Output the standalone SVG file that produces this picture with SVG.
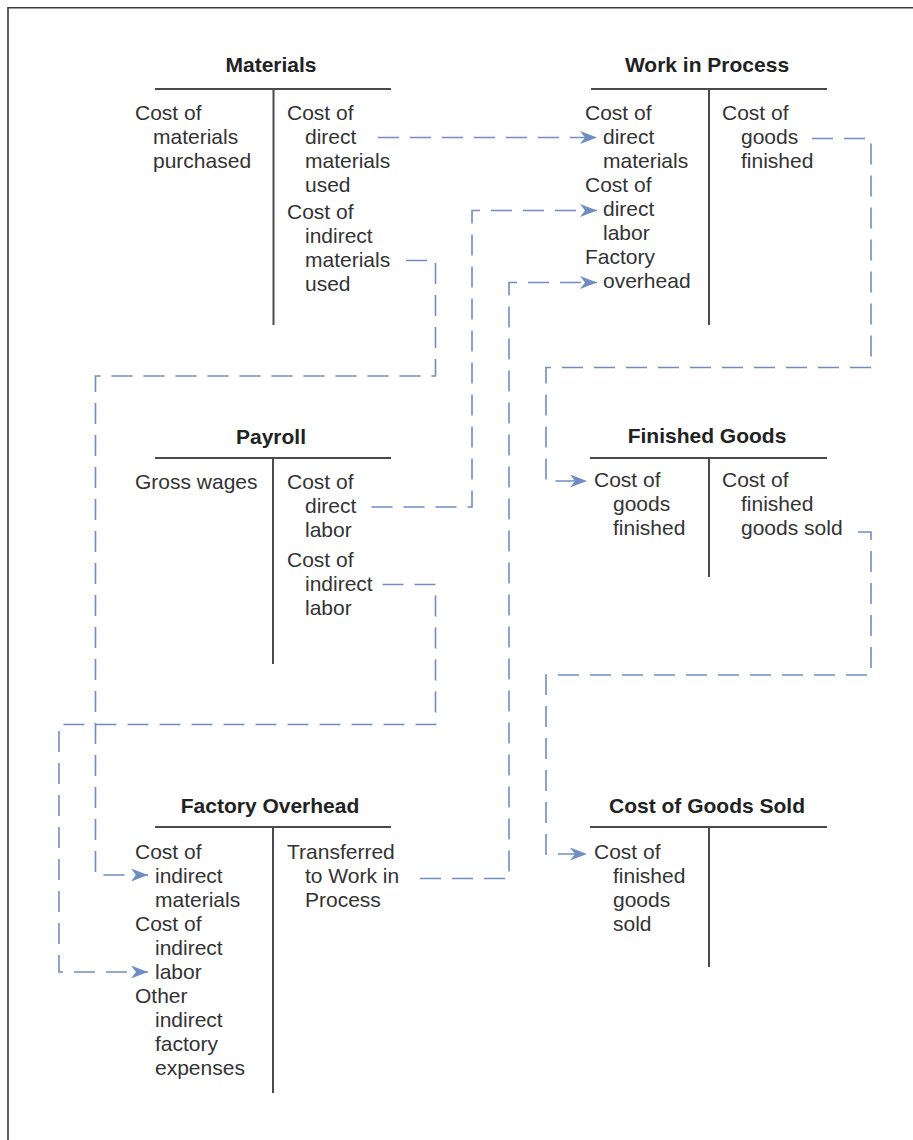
<svg xmlns="http://www.w3.org/2000/svg" width="913" height="1140" viewBox="0 0 913 1140">
  <defs>
    <style>
      .title { font-family: "Liberation Sans", Arial, sans-serif; font-size: 21px; font-weight: bold; fill: #222; text-anchor: middle; }
      .item { font-family: "Liberation Sans", Arial, sans-serif; font-size: 21px; fill: #333; }
      .tline { stroke: #4a4a4a; stroke-width: 2; fill: none; }
      .flow { stroke: #6f8dc2; stroke-width: 1.6; fill: none; stroke-dasharray: 21 11; marker-end: url(#head); }
      .frame { stroke: #3a3a3a; stroke-width: 1.6; fill: none; }
    </style>
    <marker id="head" markerUnits="userSpaceOnUse" markerWidth="18" markerHeight="14" refX="17" refY="6.5" orient="auto" viewBox="0 0 18 14">
      <path d="M0,0 L17,6.5 L0,13 L5,6.5 Z" fill="#6f8dc2"/>
    </marker>
  </defs>

  <rect width="913" height="1140" fill="#fff"/>
  <!-- page frame (top and left rules) -->
  <path class="frame" d="M8,1140 V7.8 H913"/>

  <!-- Materials -->
  <g id="materials">
    <text class="title" x="271" y="72">Materials</text>
    <path class="tline" d="M155,89 H391 M273.5,89 V325"/>
    <text class="item" x="135" y="120">Cost of</text>
    <text class="item" x="153" y="144">materials</text>
    <text class="item" x="153" y="168">purchased</text>
    <text class="item" x="287" y="120">Cost of</text>
    <text class="item" x="305" y="144">direct</text>
    <text class="item" x="305" y="168">materials</text>
    <text class="item" x="305" y="192">used</text>
    <text class="item" x="287" y="218.5">Cost of</text>
    <text class="item" x="305" y="242.5">indirect</text>
    <text class="item" x="305" y="266.5">materials</text>
    <text class="item" x="305" y="290.5">used</text>
  </g>

  <!-- Work in Process -->
  <g id="work-in-process">
    <text class="title" x="707" y="72">Work in Process</text>
    <path class="tline" d="M591,89 H827 M709,89 V325"/>
    <text class="item" x="585" y="120">Cost of</text>
    <text class="item" x="603" y="144">direct</text>
    <text class="item" x="603" y="168">materials</text>
    <text class="item" x="585" y="192">Cost of</text>
    <text class="item" x="603" y="216">direct</text>
    <text class="item" x="603" y="240">labor</text>
    <text class="item" x="585" y="264">Factory</text>
    <text class="item" x="603" y="288">overhead</text>
    <text class="item" x="722" y="120">Cost of</text>
    <text class="item" x="741" y="144">goods</text>
    <text class="item" x="741" y="168">finished</text>
  </g>

  <!-- Payroll -->
  <g id="payroll">
    <text class="title" x="271" y="444">Payroll</text>
    <path class="tline" d="M155,458 H391 M273,458 V664"/>
    <text class="item" x="135" y="489">Gross wages</text>
    <text class="item" x="287" y="489">Cost of</text>
    <text class="item" x="305" y="513">direct</text>
    <text class="item" x="305" y="537">labor</text>
    <text class="item" x="287" y="567">Cost of</text>
    <text class="item" x="305" y="591">indirect</text>
    <text class="item" x="305" y="615">labor</text>
  </g>

  <!-- Finished Goods -->
  <g id="finished-goods">
    <text class="title" x="707" y="443">Finished Goods</text>
    <path class="tline" d="M590,458 H827 M709,458 V577"/>
    <text class="item" x="594" y="487">Cost of</text>
    <text class="item" x="613" y="511">goods</text>
    <text class="item" x="613" y="535">finished</text>
    <text class="item" x="722" y="487">Cost of</text>
    <text class="item" x="741" y="511">finished</text>
    <text class="item" x="741" y="535">goods sold</text>
  </g>

  <!-- Factory Overhead -->
  <g id="factory-overhead">
    <text class="title" x="270" y="813">Factory Overhead</text>
    <path class="tline" d="M155,827 H391 M273,827 V1093"/>
    <text class="item" x="135" y="859">Cost of</text>
    <text class="item" x="155" y="883">indirect</text>
    <text class="item" x="155" y="907">materials</text>
    <text class="item" x="135" y="931">Cost of</text>
    <text class="item" x="155" y="955">indirect</text>
    <text class="item" x="155" y="979">labor</text>
    <text class="item" x="135" y="1003">Other</text>
    <text class="item" x="155" y="1027">indirect</text>
    <text class="item" x="155" y="1051">factory</text>
    <text class="item" x="155" y="1075">expenses</text>
    <text class="item" x="287" y="859">Transferred</text>
    <text class="item" x="305" y="883">to Work in</text>
    <text class="item" x="305" y="907">Process</text>
  </g>

  <!-- Cost of Goods Sold -->
  <g id="cost-of-goods-sold">
    <text class="title" x="707" y="813">Cost of Goods Sold</text>
    <path class="tline" d="M590,827 H827 M709,827 V967"/>
    <text class="item" x="594" y="859">Cost of</text>
    <text class="item" x="613" y="883">finished</text>
    <text class="item" x="613" y="907">goods</text>
    <text class="item" x="613" y="931">sold</text>
  </g>

  <!-- cost flows between accounts -->
  <g id="connectors">
    <path class="flow" d="M378,137.5 H597"/>
    <path class="flow" d="M371.5,507 H472 V210.5 H597"/>
    <path class="flow" d="M420,878.5 H509 V282.5 H597"/>
    <path class="flow" d="M406,260.5 H435.5 V376 H95.5 V875 H148"/>
    <path class="flow" d="M382.5,584.5 H435.5 V724.5 H59 V972 H148"/>
    <path class="flow" d="M812,138.5 H871 V367.5 H546 V481 H587"/>
    <path class="flow" d="M858,532 H871 V675 H546 V854 H587"/>
  </g>
</svg>
